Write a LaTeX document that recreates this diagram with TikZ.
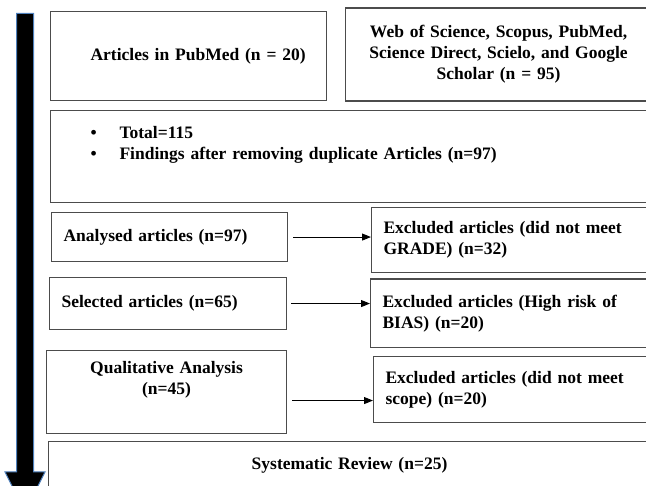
\documentclass[tikz,border=0pt]{standalone}
\usepackage{fontspec}
\setmainfont{Liberation Serif}
\usetikzlibrary{arrows.meta}
\definecolor{outlineblue}{RGB}{79,129,189}
\newcommand{\bulletitem}[1]{\hspace*{26pt}\makebox[29pt][l]{\textbullet}#1}

\begin{document}
\begin{tikzpicture}[x=1pt, y=-1pt,
    box/.style={draw=black!70, line width=1.1pt, anchor=north west, inner xsep=12pt, inner ysep=0pt,
        font=\fontsize{17.5}{21}\selectfont\bfseries},
    flow/.style={black, line width=1pt, -{Triangle[length=9pt,width=7pt]}}]
    \useasboundingbox (0,0) rectangle (646,486);
    \clip (0,0) rectangle (646,486);
    \filldraw[fill=black, draw=outlineblue, line width=1pt] (16.5,13.5) -- (33.5,13.5) -- (33.5,472) -- (45,472) -- (25,512) -- (5,472) -- (16.5,472) -- cycle;

    \node[box, minimum width=276pt, minimum height=89pt, text width=252pt, align=left] (pubmed) at (50,11) {\hspace*{28pt}Articles in PubMed (n = 20)};
    \node[box, minimum width=306pt, minimum height=93pt, text width=278pt, align=center] (databases) at (345,7.5) {Web of Science, Scopus, PubMed,\\Science Direct, Scielo, and Google\\Scholar (n = 95)};
    \node[box, minimum width=606pt, minimum height=92pt, text width=578pt, align=left] (total) at (50,110) {\bulletitem{Total=115}\\\bulletitem{Findings after removing duplicate Articles (n=97)}\\\strut};

    \node[box, minimum width=236pt, minimum height=49pt, text width=212pt, align=left] (analysed) at (51,212) {Analysed articles (n=97)};
    \node[box, minimum width=290pt, minimum height=65pt, text width=266pt, align=left] (excl1) at (371,207) {Excluded articles (did not meet\\GRADE) (n=32)};
    \node[box, minimum width=237pt, minimum height=52pt, text width=213pt, align=left] (selected) at (49,277) {Selected articles (n=65)};
    \node[box, minimum width=290pt, minimum height=68.5pt, text width=266pt, align=left] (excl2) at (370,278.5) {Excluded articles (High risk of\\BIAS) (n=20)};
    \node[box, minimum width=240pt, minimum height=83pt, text width=216pt, align=center] (qual) at (46,350) {Qualitative Analysis\\(n=45)\\\strut};
    \node[box, minimum width=290pt, minimum height=66pt, text width=266pt, align=left] (excl3) at (373,356) {Excluded articles (did not meet\\scope) (n=20)};
    \node[box, minimum width=602pt, minimum height=47pt, text width=578pt, align=center] (review) at (48,441) {Systematic Review (n=25)};

    \draw[flow] ([xshift=5pt]analysed.east) -- (analysed.east -| excl1.west);
    \draw[flow] ([xshift=4pt]selected.east) -- (selected.east -| excl2.west);
    \draw[flow] ([xshift=5pt,yshift=-8.5pt]qual.east) coordinate (q) -- (q -| excl3.west);
\end{tikzpicture}
\end{document}
